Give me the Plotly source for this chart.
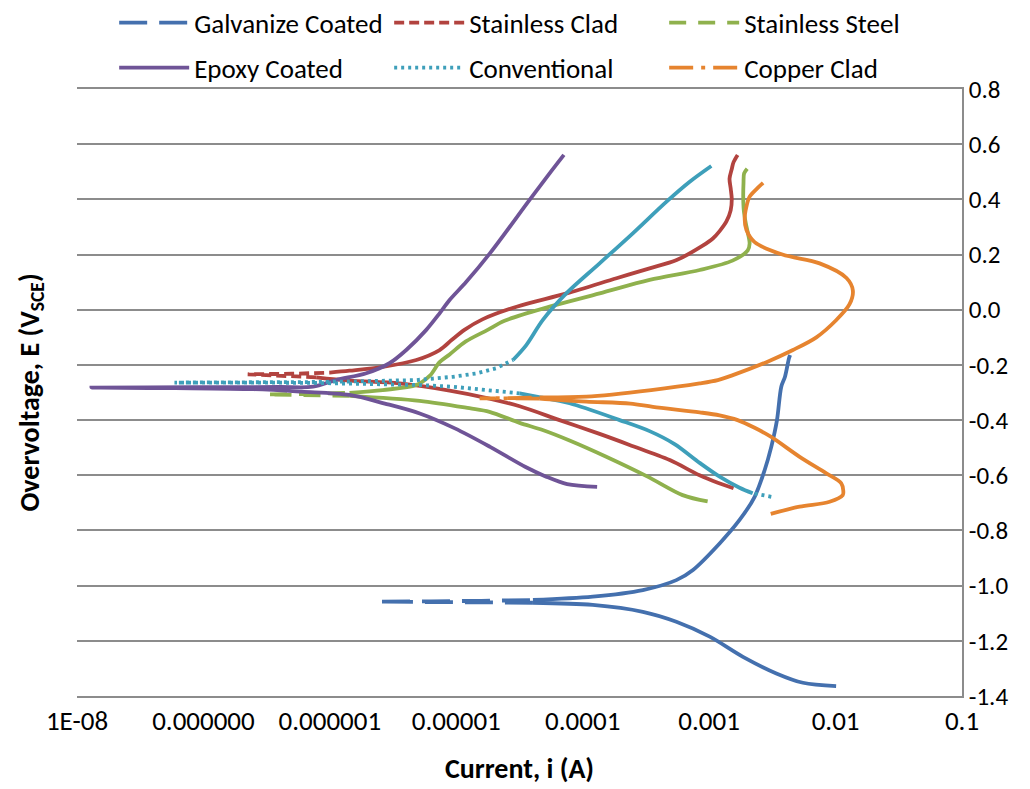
import numpy as np
import plotly.graph_objects as go

# ---------------- data (scan order: cathodic end -> Ecorr -> anodic end) ----------------
galv_E = [-1.364, -1.352, -1.318, -1.258, -1.185, -1.131, -1.095, -1.070, -1.062, -1.060, -1.059,
          -1.058,
          -1.057, -1.055, -1.052, -1.040, -1.016, -0.980, -0.943, -0.847, -0.762, -0.678, -0.581,
          -0.497, -0.400, -0.279, -0.243, -0.176, -0.164]
galv_i = [1.01e-2, 5.52e-3, 3.40e-3, 1.85e-3, 1.01e-3, 5.50e-4, 2.99e-4, 1.20e-4, 4.04e-5, 1.26e-5, 5.01e-6,
          2.38e-6,
          6.31e-6, 1.58e-5, 4.04e-5, 1.20e-4, 2.99e-4, 5.50e-4, 7.45e-4, 1.21e-3, 1.74e-3, 2.29e-3, 2.75e-3,
          3.10e-3, 3.44e-3, 3.72e-3, 3.98e-3, 4.28e-3, 4.37e-3]

clad_E = [-0.647, -0.627, -0.600, -0.545, -0.490, -0.450, -0.400, -0.350, -0.322, -0.293, -0.267, -0.257,
          -0.245, -0.240,
          -0.234,
          -0.232, -0.228, -0.221, -0.207, -0.182, -0.146, -0.110, -0.073, -0.035, 0.011, 0.059, 0.114,
          0.150, 0.180, 0.232, 0.258, 0.285, 0.320, 0.360, 0.400, 0.440, 0.475, 0.510, 0.535, 0.561]
clad_i = [1.56e-3, 1.17e-3, 8.41e-4, 4.88e-4, 2.35e-4, 1.36e-4, 6.56e-5, 3.17e-5, 1.83e-5, 8.85e-6, 3.56e-6, 1.43e-6,
          7.80e-7, 4.47e-7,
          2.24e-7,
          5.01e-7, 1.00e-6, 1.43e-6, 2.62e-6, 4.83e-6, 7.38e-6, 9.18e-6, 1.16e-5, 1.61e-5, 3.00e-5, 7.46e-5, 1.85e-4,
          3.38e-4, 5.53e-4, 8.89e-4, 1.07e-3, 1.21e-3, 1.37e-3, 1.48e-3, 1.51e-3, 1.48e-3, 1.45e-3, 1.51e-3, 1.56e-3,
          1.68e-3]

ss_E = [-0.695, -0.672, -0.605, -0.532, -0.474, -0.436, -0.410, -0.370, -0.357, -0.330, -0.312, -0.309,
        -0.307,
        -0.305, -0.301, -0.291, -0.273, -0.240, -0.190, -0.162, -0.115, -0.073, -0.040, 0.011, 0.059, 0.108,
        0.144, 0.178, 0.215, 0.240, 0.280, 0.313, 0.360, 0.410, 0.460, 0.494, 0.511]
ss_i = [9.73e-4, 6.17e-4, 3.26e-4, 1.52e-4, 7.87e-5, 4.82e-5, 3.17e-5, 1.83e-5, 1.27e-5, 5.13e-6, 1.43e-6, 7.94e-7,
        3.14e-7,
        7.08e-7, 1.43e-6, 2.62e-6, 4.83e-6, 6.15e-6, 7.38e-6, 8.85e-6, 1.19e-5, 1.77e-5, 2.41e-5, 5.47e-5, 1.36e-4,
        3.38e-4, 8.41e-4, 1.53e-3, 2.02e-3, 2.09e-3, 2.02e-3, 1.95e-3, 1.88e-3, 1.86e-3, 1.87e-3, 1.89e-3, 2.00e-3]

epoxy_E = [-0.642, -0.632, -0.605, -0.569, -0.497, -0.430, -0.376, -0.340, -0.309, -0.297, -0.288, -0.284,
           -0.282,
           -0.281, -0.280, -0.279, -0.255, -0.230, -0.194, -0.146, -0.073, -0.013, 0.035, 0.101, 0.205,
           0.398, 0.494, 0.561]
epoxy_i = [1.30e-4, 7.53e-5, 5.14e-5, 3.50e-5, 1.85e-5, 9.75e-6, 5.14e-6, 2.72e-6, 1.43e-6, 6.00e-7, 2.50e-7, 6.00e-8,
           1.30e-8,
           8.00e-8, 4.00e-7, 7.35e-7, 1.12e-6, 1.94e-6, 2.96e-6, 4.02e-6, 5.79e-6, 7.38e-6, 8.85e-6, 1.20e-5, 1.85e-5,
           3.80e-5, 5.47e-5, 7.10e-5]

conv_E = [-0.678, -0.665, -0.645, -0.605, -0.555, -0.487, -0.440, -0.400, -0.339, -0.315, -0.303, -0.291, -0.279,
          -0.273, -0.266, -0.265, -0.264,
          -0.264,
          -0.263, -0.262, -0.260, -0.255, -0.243, -0.231, -0.212, -0.182, -0.128, -0.037, 0.059, 0.168,
          0.277, 0.391, 0.464, 0.521]
conv_i = [3.10e-3, 2.21e-3, 1.74e-3, 1.21e-3, 8.41e-4, 5.33e-4, 3.38e-4, 1.96e-4, 7.87e-5, 4.30e-5, 3.17e-5, 1.73e-5,
          9.40e-6, 5.13e-6, 1.43e-6, 6.90e-7, 2.32e-7,
          5.90e-8,
          2.32e-7, 6.90e-7, 1.43e-6, 4.83e-6, 9.40e-6, 1.44e-5, 2.07e-5, 2.81e-5, 3.58e-5, 4.84e-5, 7.41e-5, 1.36e-4,
          2.49e-4, 4.58e-4, 7.02e-4, 1.04e-3]

cu_E = [-0.740, -0.714, -0.696, -0.672, -0.655, -0.629, -0.593, -0.533, -0.460, -0.428, -0.400, -0.383, -0.372,
        -0.352, -0.340, -0.333, -0.325, -0.322,
        -0.321,
        -0.320, -0.318, -0.315, -0.291, -0.267, -0.255, -0.237, -0.190, -0.146, -0.100, -0.040, 0.020, 0.070,
        0.115, 0.168, 0.200, 0.245, 0.290, 0.330, 0.373, 0.410, 0.440, 0.460]
cu_i = [3.07e-3, 5.20e-3, 8.97e-3, 1.14e-2, 1.15e-2, 1.11e-2, 8.45e-3, 5.20e-3, 3.07e-3, 2.29e-3, 1.68e-3, 1.21e-3,
        8.41e-4, 3.59e-4, 2.38e-4, 1.07e-4, 5.47e-5, 4.56e-5,
        1.53e-5,
        3.16e-5, 4.56e-5, 1.07e-4, 3.48e-4, 8.41e-4, 1.17e-3, 1.54e-3, 2.84e-3, 4.60e-3, 7.05e-3, 1.00e-2, 1.29e-2,
        1.37e-2, 1.22e-2, 7.48e-3, 3.80e-3, 2.29e-3, 1.97e-3, 1.91e-3, 1.97e-3, 2.09e-3, 2.40e-3, 2.67e-3]

x_tickvals = [1e-8, 1e-7, 1e-6, 1e-5, 1e-4, 1e-3, 1e-2, 1e-1]
x_ticktext = ["1E-08", "0.000000", "0.000001", "0.00001", "0.0001", "0.001", "0.01", "0.1"]
y_tickvals = [-1.4, -1.2, -1.0, -0.8, -0.6, -0.4, -0.2, 0.0, 0.2, 0.4, 0.6, 0.8]
y_ticktext = ["-1.4", "-1.2", "-1.0", "-0.8", "-0.6", "-0.4", "-0.2", "0.0", "0.2", "0.4", "0.6", "0.8"]

# ---------------- styles ----------------
FONT = "Carlito, Calibri, Lato, sans-serif"
series = [
    # name, currents, potentials, colour, dash, sparse-low log threshold, sparse-high threshold, legend
    ("Galvanize Coated", galv_i, galv_E, "#4470AE", "28px,12px", -4.39, None, "legend"),
    ("Stainless Clad", clad_i, clad_E, "#B2433F", "10px,5px", -5.99, None, "legend"),
    ("Stainless Steel", ss_i, ss_E, "#8FB14D", "17px,12px", -5.84, None, "legend"),
    ("Epoxy Coated", epoxy_i, epoxy_E, "#6F5497", "solid", None, None, "legend2"),
    ("Conventional", conv_i, conv_E, "#3E9FBA", "3px,4px", -4.49, -2.66, "legend2"),
    ("Copper Clad", cu_i, cu_E, "#E6842F", "24px,8px,4px,8px", -4.30, None, "legend2"),
]


def split_runs(cur, pot, lo, hi):
    """Split polyline into sparse (patterned) and dense (solid) parts."""
    L = np.log10(cur)
    runs = []  # (is_sparse, [indices])
    for k in range(len(L) - 1):
        sp = False
        if lo is not None and L[k] <= lo and L[k + 1] <= lo:
            sp = True
        if hi is not None and L[k] >= hi and L[k + 1] >= hi:
            sp = True
        if runs and runs[-1][0] == sp:
            runs[-1][1].append(k + 1)
        else:
            runs.append((sp, [k, k + 1]))
    out = {True: ([], []), False: ([], [])}
    for sp, idx in runs:
        xs, ys = out[sp]
        if xs:
            xs.append(None)
            ys.append(None)
        xs.extend([cur[j] for j in idx])
        ys.extend([pot[j] for j in idx])
    return out


fig = go.Figure()
LW = 3.8
SM = 0.9
for name, cur, pot, col, dash, lo, hi, leg in series:
    if dash == "solid":
        fig.add_trace(go.Scatter(x=cur, y=pot, mode="lines", name=name, legend=leg,
                                 line=dict(color=col, width=LW, shape="spline", smoothing=SM),
                                 hoverinfo="skip"))
        continue
    parts = split_runs(cur, pot, lo, hi)
    sx, sy = parts[False]
    dx, dy = parts[True]
    fig.add_trace(go.Scatter(x=dx, y=dy, mode="lines", name=name, legend=leg, legendgroup=name,
                             line=dict(color=col, width=LW, dash=dash), hoverinfo="skip"))
    fig.add_trace(go.Scatter(x=sx, y=sy, mode="lines", name=name, legend=leg, legendgroup=name,
                             showlegend=False,
                             line=dict(color=col, width=LW, shape="spline", smoothing=SM),
                             hoverinfo="skip"))

GRID = "#8C8C8C"
leg_common = dict(orientation="h", xanchor="left", yanchor="middle", entrywidth=190,
                  entrywidthmode="pixels", itemwidth=70, bgcolor="rgba(0,0,0,0)",
                  font=dict(family=FONT, size=27, color="#000000"), traceorder="normal")

# the page body adds an 8 px offset, so the figure is 8 px smaller than the window
fig.update_layout(
    width=1022, height=781,
    margin=dict(l=69, r=68, t=81, b=93, autoexpand=False),
    paper_bgcolor="white", plot_bgcolor="white",
    showlegend=True,
    legend=dict(x=0.042, y=1.1087, **leg_common),
    legend2=dict(x=0.042, y=1.0346, **leg_common),
    xaxis=dict(type="log", range=[-8, -1], tickvals=x_tickvals, ticktext=x_ticktext,
               showgrid=False, zeroline=False, ticks="", showline=True, mirror=True,
               linecolor=GRID, linewidth=1.5, automargin=False,
               tickfont=dict(family=FONT, size=27, color="#000000"),
               title=dict(text="Current, i (A)", standoff=22,
                          font=dict(family=FONT, size=28, color="#000000", weight="bold"))),
    yaxis=dict(side="right", range=[-1.4, 0.8], tickvals=y_tickvals, ticktext=y_ticktext,
               showgrid=True, gridcolor=GRID, gridwidth=1.5, zeroline=False, ticks="",
               showline=True, linecolor=GRID, linewidth=1.5, automargin=False,
               tickfont=dict(family=FONT, size=25, color="#000000")),
    annotations=[dict(text="Overvoltage, E (V<sub>SCE</sub>)", xref="paper", yref="paper",
                      x=-0.053, y=0.5, xanchor="center", yanchor="middle", textangle=-90,
                      showarrow=False,
                      font=dict(family=FONT, size=28, color="#000000", weight="bold"))],
)

fig.write_html("out.html")
